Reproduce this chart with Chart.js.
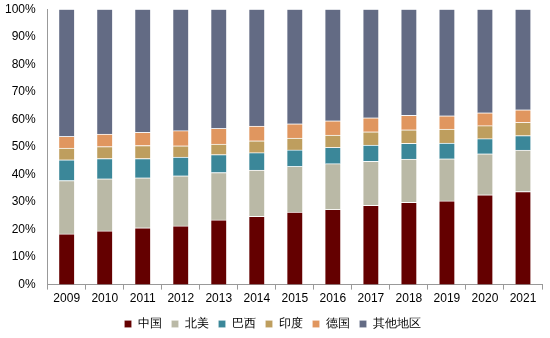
<!DOCTYPE html>
<html lang="zh">
<head>
  <meta charset="UTF-8">
  <title>各地区占比</title>
  <script src="https://cdn.jsdelivr.net/npm/chart.js"></script>
  <style>
    body { margin: 0; background: #fff; }
    .wrap { width: 550px; height: 338px; }
  </style>
</head>
<body>
<div class="wrap">
  <canvas id="shareChart"></canvas>
</div>
<script>
  const years = ['2009','2010','2011','2012','2013','2014','2015','2016','2017','2018','2019','2020','2021'];

  // shares in %
  const china   = [18.4, 19.5, 20.6, 21.3, 23.5, 24.8, 26.3, 27.3, 28.8, 29.9, 30.4, 32.6, 33.8];
  const america = [19.4, 18.9, 18.2, 18.2, 17.2, 16.8, 16.6, 16.6, 16.0, 15.7, 15.3, 14.9, 15.0];
  const brazil  = [7.5, 7.4, 7.0, 6.8, 6.5, 6.3, 6.0, 5.9, 5.9, 5.7, 5.7, 5.5, 5.3];
  const india   = [4.3, 4.3, 4.7, 4.1, 3.8, 4.3, 4.3, 4.5, 4.8, 4.9, 5.1, 4.7, 4.8];
  const germany = [4.2, 4.6, 4.8, 5.5, 5.7, 5.4, 5.2, 5.2, 5.1, 5.3, 4.8, 4.7, 4.6];
  const others  = [46.2, 45.3, 44.7, 44.1, 43.3, 42.4, 41.6, 40.5, 39.4, 38.5, 38.7, 37.6, 36.5];

  const yTicks = [0, 10, 20, 30, 40, 50, 60, 70, 80, 90, 100];

  const font = 'Liberation Sans, Arial, sans-serif';

  function series(label, data, color) {
    return {
      label: label,
      data: data,
      backgroundColor: color,
      borderColor: 'rgba(255,255,255,0.6)',
      borderWidth: { top: 1, bottom: 0, left: 0, right: 0 },
      borderSkipped: false,
      barThickness: 15
    };
  }

  const ctx = document.getElementById('shareChart').getContext('2d');
  new Chart(ctx, {
    type: 'bar',
    data: {
      labels: years,
      datasets: [
        series('中国', china, '#640000'),
        series('北美', america, '#BAB9A6'),
        series('巴西', brazil, '#3B8799'),
        series('印度', india, '#BE9E5E'),
        series('德国', germany, '#E0965F'),
        series('其他地区', others, '#636B84')
      ]
    },
    options: {
      responsive: true,
      maintainAspectRatio: false,
      animation: false,
      layout: { padding: { top: 0, right: 8, left: 3, bottom: -2 } },
      plugins: {
        legend: {
          position: 'bottom',
          labels: {
            boxWidth: 7,
            boxHeight: 7,
            padding: 10,
            color: '#000',
            font: { family: font, size: 12 }
          }
        },
        tooltip: { enabled: false }
      },
      scales: {
        x: {
          stacked: true,
          grid: { display: true, offset: true, drawOnChartArea: false, tickLength: 5, color: '#999' },
          border: { color: '#999' },
          ticks: { color: '#000', padding: 2, font: { family: font, size: 12 } }
        },
        y: {
          stacked: true,
          min: 0,
          max: 100,
          afterBuildTicks: axis => { axis.ticks = yTicks.map(v => ({ value: v })); },
          grid: { display: false, tickLength: 10 },
          border: { color: '#999' },
          ticks: {
            color: '#000',
            padding: 2,
            font: { family: font, size: 12 },
            callback: v => v + '%'
          }
        }
      }
    }
  });
</script>
</body>
</html>
